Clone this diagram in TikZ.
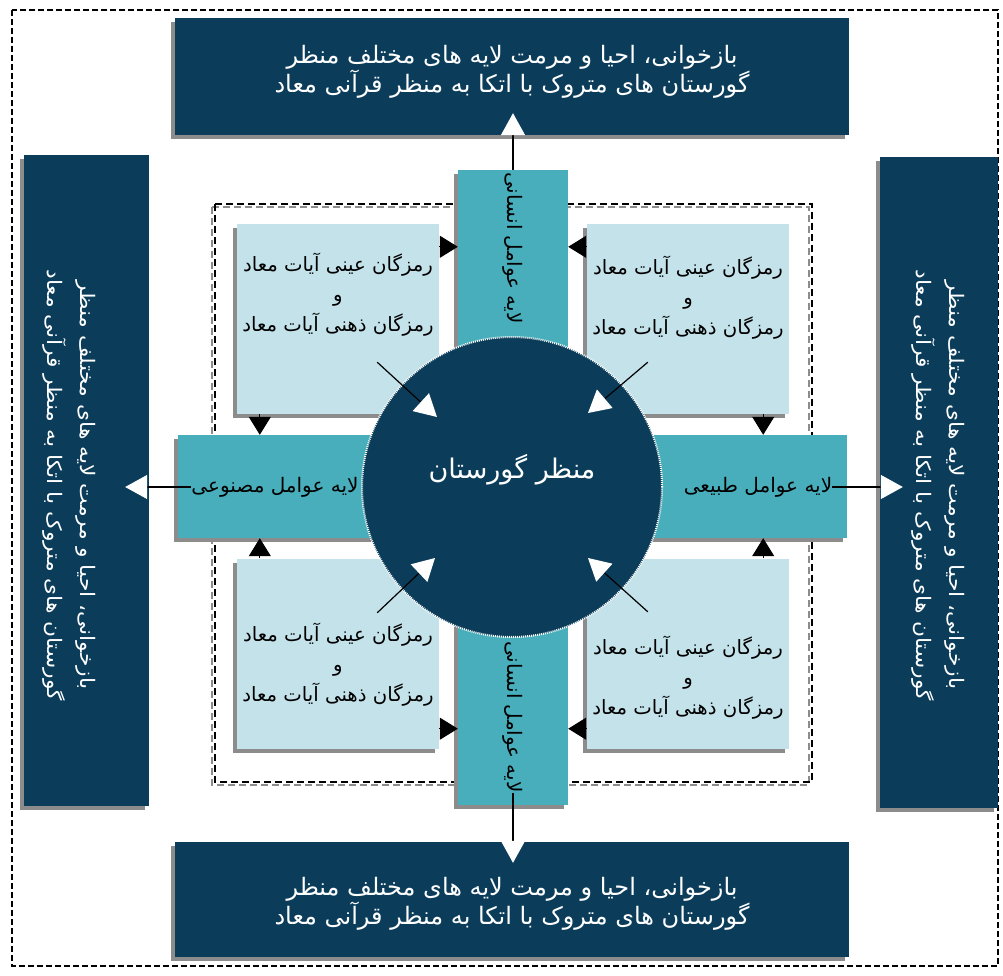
\documentclass[tikz,border=0pt]{standalone}
\usepackage{fontspec}
\newfontfamily\fa[Script=Arabic]{DejaVu Sans}
\TeXXeTstate=1
\usetikzlibrary{arrows.meta,calc,shadows}
\definecolor{navy}{RGB}{11,61,91}
\definecolor{tealbar}{RGB}{72,174,187}
\definecolor{pale}{RGB}{196,226,234}
\definecolor{shadowgray}{RGB}{140,140,140}
\begin{document}
\begin{tikzpicture}[x=1pt,y=-1pt,
  shd/.style={drop shadow={shadow xshift=-4pt,shadow yshift=-4pt,opacity=1,fill=shadowgray}},
  darkbox/.style={fill=navy,draw=none,inner sep=0pt,shd},
  barbox/.style={fill=tealbar,draw=none,inner sep=0pt,shd},
  palebox/.style={fill=pale,draw=none,inner sep=0pt,shd,minimum width=202pt,minimum height=190pt},
  wtext/.style={text=white,font=\fa\fontsize{24}{29}\selectfont,align=center,inner sep=0pt},
  vwtext/.style={text=white,font=\fa\fontsize{20}{33}\selectfont,align=center,inner sep=0pt,rotate=-90,xscale=1.09},
  btext/.style={text=black,font=\fa\fontsize{19.7}{30}\selectfont,align=center,inner sep=0pt},
  bartext/.style={text=black,font=\fa\fontsize{20}{24}\selectfont,inner sep=0pt},
  dframe/.style={line width=1.5pt,dash pattern=on 6pt off 3pt},
  iframe/.style={line width=2pt,dash pattern=on 7pt off 4pt},
  barrow/.style={line width=1pt,-{Triangle[length=18pt,width=22pt]}},
  warrow/.style={line width=1.2pt,-{Triangle[length=22pt,width=24pt,color=white]}}
]
\useasboundingbox (0,0) rectangle (1003,976);
% outer dashed frame
\draw[dframe] (12,10) rectangle (998,966);
% outer result boxes
\node[darkbox,minimum width=674pt,minimum height=117pt] (topb) at (512,76.5) {};
\node[darkbox,minimum width=674pt,minimum height=115pt] (botb) at (512,899.5) {};
\node[darkbox,minimum width=125pt,minimum height=651pt] (lbox) at (86.5,480.5) {};
\node[darkbox,minimum width=118pt,minimum height=651pt] (rbox) at (939,482.5) {};
\node[wtext] (topt) at (512,72) {\beginR بازخوانی، احیا و مرمت لایه های مختلف منظر\endR\\\beginR گورستان های متروک با اتکا به منظر قرآنی معاد\endR};
\node[wtext] (bott) at (512,904) {\beginR بازخوانی، احیا و مرمت لایه های مختلف منظر\endR\\\beginR گورستان های متروک با اتکا به منظر قرآنی معاد\endR};
\node[vwtext] (lt) at (69,485) {\beginR بازخوانی، احیا و مرمت لایه های مختلف منظر\endR\\\beginR گورستان های متروک با اتکا به منظر قرآنی معاد\endR};
\node[vwtext] (rt) at (938,485) {\beginR بازخوانی، احیا و مرمت لایه های مختلف منظر\endR\\\beginR گورستان های متروک با اتکا به منظر قرآنی معاد\endR};
% inner dashed frame
\draw[iframe,shadowgray] (212,207) rectangle (809,785);
\draw[iframe] (215,204) rectangle (812,782);
% bars
\node[barbox,minimum width=110pt,minimum height=635pt] (vbar) at (513,487.5) {};
\node[barbox,minimum width=669pt,minimum height=103pt] (hbar) at (512.5,486.5) {};
% corner boxes
\node[palebox] (tl) at (338,319) {};
\node[palebox] (tr) at (688,319) {};
\node[palebox] (bl) at (338,653.5) {};
\node[palebox] (br) at (688,653.5) {};
\node[btext] (tlt) at (338,295) {\beginR رمزگان عینی آیات معاد\endR\\\beginR و\endR\\\beginR رمزگان ذهنی آیات معاد\endR};
\node[btext] (trt) at (688,298) {\beginR رمزگان عینی آیات معاد\endR\\\beginR و\endR\\\beginR رمزگان ذهنی آیات معاد\endR};
\node[btext] (blt) at (338,665) {\beginR رمزگان عینی آیات معاد\endR\\\beginR و\endR\\\beginR رمزگان ذهنی آیات معاد\endR};
\node[btext] (brt) at (688,678) {\beginR رمزگان عینی آیات معاد\endR\\\beginR و\endR\\\beginR رمزگان ذهنی آیات معاد\endR};
% bar labels
\node[bartext] (hl) at (275,487) {\beginR لایه عوامل مصنوعی\endR};
\node[bartext] (hr) at (758,487) {\beginR لایه عوامل طبیعی\endR};
\node[bartext,rotate=-90] (vt) at (513,248) {\beginR لایه عوامل انسانی\endR};
\node[bartext,rotate=-90] (vb) at (513,717) {\beginR لایه عوامل انسانی\endR};
% central circle
\node[circle,fill=navy,draw=white,line width=2pt,dash pattern=on 1pt off 1pt,minimum size=300pt,inner sep=0pt] (circ) at (512,487) {};
\node[text=white,font=\fa\fontsize{27}{30}\selectfont,inner sep=0pt] (ct) at (512,470) {\beginR منظر گورستان\endR};
% black arrowheads from corner boxes to bars
\coordinate (a1) at ([yshift=-23pt]tl.north east);
\draw[barrow] (a1) -- (a1 -| vbar.west);
\coordinate (a2) at ([xshift=23pt]tl.south west);
\draw[barrow] (a2) -- (a2 |- hbar.north);
\coordinate (a3) at ([yshift=-23pt]tr.north west);
\draw[barrow] (a3) -- (a3 -| vbar.east);
\coordinate (a4) at ([xshift=-26pt]tr.south east);
\draw[barrow] (a4) -- (a4 |- hbar.north);
\coordinate (a5) at ([xshift=23pt]bl.north west);
\draw[barrow] (a5) -- (a5 |- hbar.south);
\coordinate (a6) at ([yshift=20pt]bl.south east);
\draw[barrow] (a6) -- (a6 -| vbar.west);
\coordinate (a7) at ([yshift=20pt]br.south west);
\draw[barrow] (a7) -- (a7 -| vbar.east);
\coordinate (a8) at ([xshift=-26pt]br.north east);
\draw[barrow] (a8) -- (a8 |- hbar.south);
% white arrows from corner boxes into circle
\draw[warrow] ($(tl.south east)+(-62,-52)$) -- ($(circ.center)+(-75,-70)$);
\draw[warrow] ($(tr.south west)+(61,-52)$) -- ($(circ.center)+(76,-74)$);
\draw[warrow] ($(bl.north east)+(-62,54.5)$) -- ($(circ.center)+(-77,71)$);
\draw[warrow] ($(br.north west)+(61,53.5)$) -- ($(circ.center)+(76,71)$);
% connectors to result boxes
\draw[warrow,shorten >=-22pt] (vbar.north) -- (vbar.north |- topb.south);
\draw[warrow,shorten >=-21pt] (vb.east) -- (vb.east |- botb.north);
\draw[warrow,shorten >=-24pt] (hl.west) -- (hl.west -| lbox.east);
\draw[warrow,shorten >=-23pt] (hr.east) -- (hr.east -| rbox.west);
\end{tikzpicture}
\end{document}
